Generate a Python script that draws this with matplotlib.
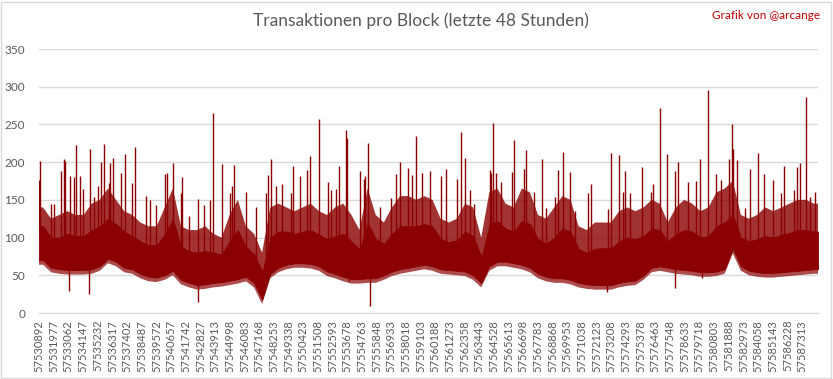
import numpy as np
import matplotlib
matplotlib.use("Agg")
import matplotlib.pyplot as plt
from matplotlib.patches import Rectangle

# ---------------- data ----------------
first_block = 57530892
n_blocks = 57600
bin_size = 600  # blocks per envelope bin

x_tick_labels = ["57530892", "57531977", "57533062", "57534147", "57535232", "57536317", "57537402",
                 "57538487", "57539572", "57540657", "57541742", "57542827", "57543913", "57544998",
                 "57546083", "57547168", "57548253", "57549338", "57550423", "57551508", "57552593",
                 "57553678", "57554763", "57555848", "57556933", "57558018", "57559103", "57560188",
                 "57561273", "57562358", "57563443", "57564528", "57565613", "57566698", "57567783",
                 "57568868", "57569953", "57571038", "57572123", "57573208", "57574293", "57575378",
                 "57576463", "57577548", "57578633", "57579718", "57580803", "57581888", "57582973",
                 "57584058", "57585143", "57586228", "57587313"]

# lower edge of the dense band, per bin
band_lo = [70, 60, 58, 57, 57, 57, 58, 62, 72, 68, 60, 58, 52, 48, 47, 50, 56, 44, 40, 37,
           38, 40, 41, 43, 45, 48, 40, 18, 52, 60, 64, 66, 66, 65, 62, 55, 52, 48, 45, 45,
           46, 46, 50, 55, 58, 60, 62, 64, 62, 58, 57, 56, 55, 50, 40, 62, 68, 68, 66, 64,
           60, 52, 48, 46, 46, 44, 40, 38, 37, 37, 37, 40, 42, 43, 50, 60, 62, 60, 58, 57,
           56, 54, 54, 55, 58, 85, 62, 56, 54, 53, 53, 54, 55, 56, 57, 58]
# top of the solid core, per bin
band_core = [115, 100, 100, 105, 102, 102, 110, 115, 125, 118, 108, 102, 95, 90, 90, 105, 125, 88, 82, 80,
             82, 80, 78, 95, 110, 88, 78, 55, 100, 108, 108, 105, 108, 110, 104, 98, 102, 105, 95, 85,
             120, 98, 92, 105, 115, 115, 115, 118, 115, 98, 94, 96, 108, 102, 75, 118, 122, 112, 108, 122,
             118, 98, 92, 100, 112, 108, 85, 80, 85, 86, 86, 95, 100, 98, 102, 112, 110, 95, 105, 110,
             108, 100, 102, 115, 120, 130, 100, 95, 98, 102, 100, 104, 106, 110, 110, 108]
# top of the dense spike forest, per bin
band_top = [140, 125, 130, 135, 130, 130, 145, 150, 165, 150, 135, 130, 120, 115, 115, 140, 165, 115, 110, 110,
            115, 105, 100, 130, 150, 115, 105, 80, 140, 145, 140, 135, 140, 145, 135, 130, 140, 145, 130, 110,
            165, 130, 120, 140, 155, 155, 150, 155, 150, 125, 120, 125, 145, 140, 100, 160, 165, 145, 140, 165,
            160, 130, 125, 140, 155, 150, 115, 110, 120, 120, 120, 135, 140, 135, 140, 150, 145, 120, 140, 150,
            145, 135, 140, 160, 165, 175, 130, 125, 130, 140, 135, 140, 145, 150, 150, 145]

# single-block spikes above the band: block number and transactions
spike_blocks = [57530912, 57530932, 57531779, 57532001, 57532519, 57532741, 57532815, 57533184, 57533480,
                57533628, 57533924, 57534146, 57534663, 57534959, 57535255, 57535477, 57535699, 57536069,
                57536142, 57536364, 57536956, 57537252, 57537769, 57537991, 57538805, 57539100, 57539544,
                57540210, 57540358, 57540801, 57541393, 57541467, 57541985, 57542650, 57543094, 57543537,
                57543759, 57544425, 57545016, 57545164, 57545312, 57546200, 57546939, 57547679, 57547827,
                57548048, 57548418, 57548862, 57549527, 57549675, 57550193, 57550711, 57550932, 57551598,
                57552263, 57552486, 57552855, 57553077, 57553595, 57553669, 57554630, 57554926, 57555000,
                57555221, 57556109, 57556922, 57557292, 57557588, 57558180, 57558475, 57558771, 57559215,
                57559806, 57560620, 57560990, 57561803, 57562099, 57562395, 57562764, 57563060, 57564244,
                57564317, 57564465, 57564687, 57565057, 57565870, 57566018, 57566758, 57566905, 57567497,
                57569050, 57568088, 57568384, 57569272, 57569642, 57570159, 57570529, 57571491, 57571712,
                57572970, 57573191, 57573783, 57574079, 57574227, 57574596, 57575484, 57576149, 57576297,
                57576815, 57577332, 57577924, 57578146, 57578886, 57579477, 57579773, 57580365, 57580957,
                57581326, 57581918, 57582140, 57582214, 57582510, 57583101, 57583471, 57584063, 57584506,
                57585172, 57585763, 57585985, 57586724, 57586947, 57587168, 57587612, 57587907, 57588278]
spike_values = [177, 202, 145, 145, 188, 204, 201, 181, 180,
                223, 181, 165, 218, 154, 168, 200, 224, 172,
                199, 206, 185, 211, 173, 220, 155, 150, 143,
                184, 185, 199, 159, 180, 128, 151, 143, 150,
                265, 197, 159, 168, 196, 160, 140, 159, 183,
                204, 168, 171, 159, 195, 181, 189, 208, 257,
                174, 163, 165, 195, 243, 232, 188, 178, 181,
                225, 141, 152, 184, 200, 192, 183, 235, 186,
                188, 181, 191, 178, 240, 206, 163, 145, 190,
                185, 252, 185, 174, 187, 230, 191, 216, 160,
                154, 204, 139, 189, 213, 187, 135, 159, 171,
                138, 212, 209, 161, 188, 159, 193, 160, 171,
                272, 211, 188, 200, 174, 175, 204, 296, 184,
                176, 204, 250, 217, 203, 139, 191, 212, 184,
                177, 159, 195, 163, 194, 199, 287, 154, 160]

# downward spikes: block number and transactions
dip_blocks = [57533111, 57534590, 57542650, 57553817, 57555370, 57572896, 57577924, 57579921]
dip_values = [29, 25, 14, 42, 9, 28, 33, 46]

y_ticks = [0, 50, 100, 150, 200, 250, 300, 350]
title = "Transaktionen pro Block (letzte 48 Stunden)"
credit = "Grafik von @arcange"

# ---------------- drawing ----------------
red = "#8B0000"
grid = "#D9D9D9"
textc = "#595959"
plt.rcParams["font.family"] = ["Lato", "DejaVu Sans"]

fig = plt.figure(figsize=(8.33, 3.79), dpi=100)
fig.patches.append(Rectangle((0.0015, 0.003), 0.996, 0.992, transform=fig.transFigure,
                             fill=False, edgecolor=grid, linewidth=1.0))
ax = fig.add_axes([0.0468, 0.1741, 0.9352, 0.6966])

nb = len(band_lo)
centers = first_block + bin_size / 2 + np.arange(nb) * bin_size
xs = np.concatenate([[first_block], centers, [first_block + n_blocks]])
ext = lambda a: np.concatenate([[a[0]], np.asarray(a, float), [a[-1]]])
lo, core, top = ext(band_lo), ext(band_core), ext(band_top)

# spike forest (mostly covered), lower fringe, then solid core
ax.fill_between(xs, core - 2, top, facecolor=red, alpha=0.8, linewidth=0, zorder=2)
ax.fill_between(xs, lo - 6, lo + 2, facecolor=red, alpha=0.7, linewidth=0, zorder=2)
ax.fill_between(xs, lo, core, facecolor=red, edgecolor=red, linewidth=0.6, zorder=3)

# single spikes and downward dips
spike_base = np.interp(spike_blocks, xs, core)
ax.vlines(spike_blocks, spike_base - 5, spike_values, color=red, linewidth=1.0, zorder=4)
dip_top = np.interp(dip_blocks, xs, lo) + 15
ax.vlines(dip_blocks, dip_values, dip_top, color=red, linewidth=1.0, zorder=4)

ax.set_xlim(first_block, first_block + n_blocks)
ax.set_ylim(0, 350)
ax.set_yticks(y_ticks)
ax.set_yticklabels([str(v) for v in y_ticks], color=textc, fontsize=8.5)
ax.yaxis.grid(True, color=grid, linewidth=1.0, zorder=0)
ax.set_axisbelow(True)

ax.set_xticks([int(t) for t in x_tick_labels])
ax.set_xticklabels(x_tick_labels, rotation=90, color=textc, fontsize=8)
ax.tick_params(axis="both", length=0)
ax.tick_params(axis="y", pad=10)
ax.tick_params(axis="x", pad=5)
for s in ["top", "right", "left"]:
    ax.spines[s].set_visible(False)
ax.spines["bottom"].set_color(grid)

fig.text(0.505, 0.945, title, ha="center", va="center", fontsize=12.5, color=textc)
fig.text(0.985, 0.96, credit, ha="right", va="center", fontsize=8.5, color="#C00000")

fig.savefig("out.png", dpi=100)
